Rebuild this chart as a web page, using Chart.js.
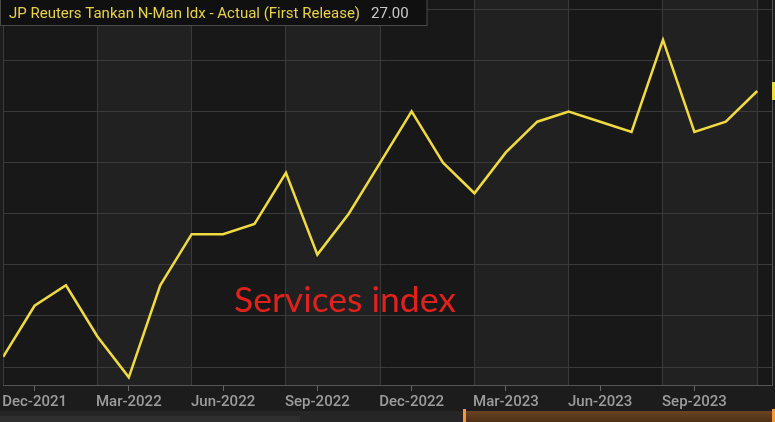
<!DOCTYPE html>
<html>
<head>
<meta charset="utf-8">
<script src="https://cdn.jsdelivr.net/npm/chart.js@4.4.0/dist/chart.umd.min.js"></script>
<style>
  html, body { margin: 0; padding: 0; background: #1c1c1c; }
  #chart { display: block; }
</style>
</head>
<body>
<canvas id="chart" width="775" height="422"></canvas>
<script>
'use strict';

// monthly readings
const months = [
  'Nov-2021', 'Dec-2021', 'Jan-2022', 'Feb-2022', 'Mar-2022', 'Apr-2022', 'May-2022',
  'Jun-2022', 'Jul-2022', 'Aug-2022', 'Sep-2022', 'Oct-2022', 'Nov-2022', 'Dec-2022',
  'Jan-2023', 'Feb-2023', 'Mar-2023', 'Apr-2023', 'May-2023', 'Jun-2023', 'Jul-2023',
  'Aug-2023', 'Sep-2023', 'Oct-2023', 'Nov-2023'
];
const values = [
  1, 6, 8, 3, -1, 8, 13,
  13, 14, 19, 11, 15, 20, 25,
  20, 17, 21, 24, 25, 24, 23,
  32, 23, 24, 27
];
const labelMonths = ['Dec-2021', 'Mar-2022', 'Jun-2022', 'Sep-2022', 'Dec-2022', 'Mar-2023', 'Jun-2023', 'Sep-2023'];
const gridMonths = ['Nov-2021', 'Feb-2022', 'May-2022', 'Aug-2022', 'Nov-2022', 'Feb-2023', 'May-2023', 'Aug-2023', 'Nov-2023'];
const yTicks = [0, 5, 10, 15, 20, 25, 30, 35];

const seriesName = 'JP Reuters Tankan N-Man Idx - Actual (First Release)';
const lastValueText = '27.00';
const noteText = 'Services index';

const LINE = '#f0da42';
const GRID = '#3a3a3a';
const xMax = 24.47;

const decor = {
  id: 'decor',
  beforeDraw(chart) {
    const { ctx, chartArea: a } = chart;
    ctx.save();
    ctx.fillStyle = '#1c1c1c';
    ctx.fillRect(0, 0, chart.width, chart.height);
    // alternating column bands between the vertical grid lines
    const gx = chart.scales.xGrid;
    const edges = gridMonths.map(m => gx.getPixelForValue(months.indexOf(m)));
    edges.push(a.right);
    for (let i = 0; i < edges.length - 1; i++) {
      ctx.fillStyle = i % 2 === 0 ? '#181818' : '#212121';
      ctx.fillRect(edges[i], a.top, edges[i + 1] - edges[i], a.bottom - a.top);
    }
    ctx.restore();
  },
  afterDraw(chart) {
    const { ctx } = chart;
    ctx.save();

    // navigator strip at the bottom
    ctx.fillStyle = '#262626';
    ctx.fillRect(0, 411, 464, 11);
    ctx.fillStyle = '#2f2f2f';
    ctx.fillRect(0, 416, 300, 6);
    const g = ctx.createLinearGradient(0, 411, 0, 422);
    g.addColorStop(0, '#6a4320');
    g.addColorStop(1, '#4e3116');
    ctx.fillStyle = g;
    ctx.fillRect(464, 411, 309, 11);
    ctx.fillStyle = '#ef9a3c';
    ctx.fillRect(463, 409, 3, 13);
    ctx.fillRect(772, 409, 3, 13);

    // cut-off last value marker on the right edge
    const py = chart.scales.y.getPixelForValue(values[values.length - 1]);
    ctx.fillStyle = LINE;
    ctx.fillRect(772, py - 9, 3, 18);

    // legend box
    ctx.fillStyle = '#101010';
    ctx.fillRect(0, 0, 427, 26);
    ctx.strokeStyle = '#4a4a4a';
    ctx.lineWidth = 1;
    ctx.strokeRect(0.5, -0.5, 426.5, 26);
    ctx.font = '15px Roboto';
    ctx.textBaseline = 'alphabetic';
    ctx.fillStyle = '#e8d24a';
    ctx.fillText(seriesName, 9, 18);
    ctx.fillStyle = '#c9c9c9';
    ctx.fillText(lastValueText, 371, 18);

    // red annotation
    ctx.font = '35.5px Lato';
    ctx.fillStyle = '#e0221d';
    ctx.fillText(noteText, 234, 312);

    ctx.restore();
  }
};

new Chart(document.getElementById('chart'), {
  type: 'line',
  data: {
    datasets: [{
      label: seriesName,
      data: values.map((v, i) => ({ x: i, y: v })),
      borderColor: LINE,
      borderWidth: 2.5,
      pointRadius: 0,
      tension: 0,
      fill: false
    }]
  },
  options: {
    responsive: false,
    animation: false,
    devicePixelRatio: 1,
    layout: { padding: { left: 3, right: 3, top: 0, bottom: 0 } },
    plugins: {
      legend: { display: false },
      tooltip: { enabled: false }
    },
    scales: {
      x: {
        type: 'linear',
        position: 'bottom',
        min: 0,
        max: xMax,
        afterBuildTicks: axis => {
          axis.ticks = labelMonths.map(m => ({ value: months.indexOf(m) }));
        },
        afterFit: axis => { axis.height = 37; },
        ticks: {
          autoSkip: false,
          maxRotation: 0,
          padding: 2,
          color: '#9c9c9c',
          font: { family: 'Roboto', size: 15, weight: '500' },
          callback: v => months[v]
        },
        grid: {
          drawOnChartArea: false,
          drawTicks: true,
          tickLength: 6,
          tickColor: '#666'
        },
        border: { display: true, color: '#555' }
      },
      xGrid: {
        type: 'linear',
        position: 'top',
        min: 0,
        max: xMax,
        afterBuildTicks: axis => {
          axis.ticks = gridMonths.map(m => ({ value: months.indexOf(m) }));
        },
        afterFit: axis => { axis.height = 0; },
        ticks: { display: false },
        grid: { color: GRID, drawTicks: false },
        border: { display: false }
      },
      y: {
        position: 'right',
        min: -1.75,
        max: 35.9,
        afterBuildTicks: axis => {
          axis.ticks = yTicks.map(v => ({ value: v }));
        },
        afterFit: axis => { axis.width = 0; },
        ticks: { display: false },
        grid: { color: GRID, drawTicks: false },
        border: { display: true, color: '#555' }
      }
    }
  },
  plugins: [decor]
});
</script>
</body>
</html>
